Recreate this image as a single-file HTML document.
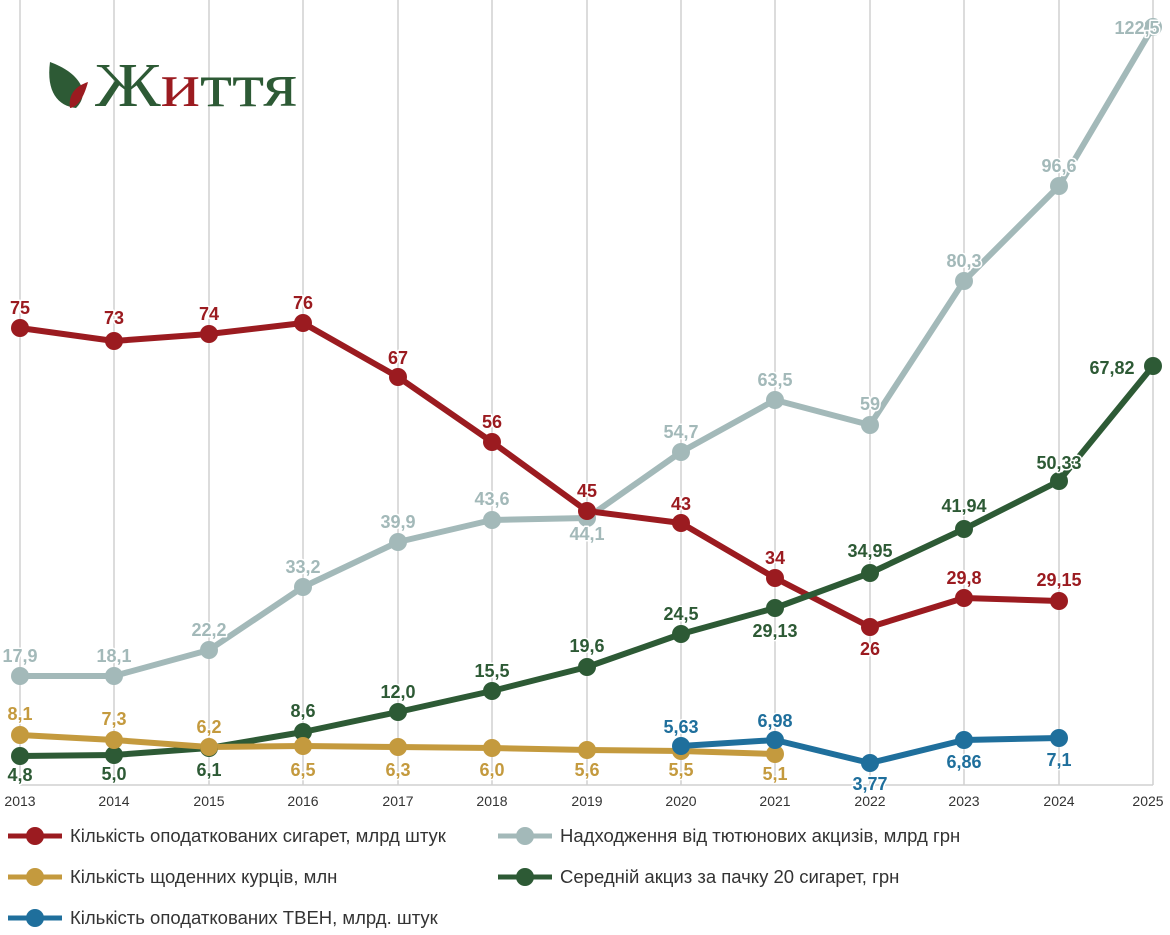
<!DOCTYPE html>
<html><head><meta charset="utf-8"><style>
body{margin:0;background:#fff;}
svg{display:block;font-family:"Liberation Sans",sans-serif;}
.l{font-weight:bold;font-size:18px;text-anchor:middle;stroke:#fff;stroke-width:3px;paint-order:stroke;stroke-linejoin:round;}
.t{font-size:14px;fill:#333;text-anchor:middle;}
.g{font-size:18.5px;fill:#333;}
</style></head><body>
<svg width="1170" height="935" viewBox="0 0 1170 935">
<g stroke="#d0d0d0" stroke-width="1.5">
<line x1="20" y1="0" x2="20" y2="785"/><line x1="114" y1="0" x2="114" y2="785"/><line x1="209" y1="0" x2="209" y2="785"/><line x1="303" y1="0" x2="303" y2="785"/><line x1="398" y1="0" x2="398" y2="785"/><line x1="492" y1="0" x2="492" y2="785"/><line x1="587" y1="0" x2="587" y2="785"/><line x1="681" y1="0" x2="681" y2="785"/><line x1="775" y1="0" x2="775" y2="785"/><line x1="870" y1="0" x2="870" y2="785"/><line x1="964" y1="0" x2="964" y2="785"/><line x1="1059" y1="0" x2="1059" y2="785"/><line x1="1153" y1="0" x2="1153" y2="785"/>
<line x1="20" y1="785" x2="1153" y2="785"/>
</g>
<g transform="translate(48,62)">
<path d="M2,0 C30,10 44,30 28,46 C10,44 -2,30 2,0Z" fill="#2d5a35"/>
<path d="M40,20 C36,35 30,45 22,46 C20,32 28,24 40,20Z" fill="#9b1b20"/>
</g>
<text x="95" y="106" font-family="Liberation Serif,serif" font-size="62" fill="#2d5a35" textLength="202" lengthAdjust="spacingAndGlyphs">Ж<tspan fill="#9b1b20">и</tspan>ття</text>
<g class="t">
<text x="20" y="806">2013</text><text x="114" y="806">2014</text><text x="209" y="806">2015</text><text x="303" y="806">2016</text><text x="398" y="806">2017</text><text x="492" y="806">2018</text><text x="587" y="806">2019</text><text x="681" y="806">2020</text><text x="775" y="806">2021</text><text x="870" y="806">2022</text><text x="964" y="806">2023</text><text x="1059" y="806">2024</text><text x="1148" y="806">2025</text>
</g>
<g fill="none" stroke-width="6" stroke-linejoin="round">
<polyline stroke="#a3b9b9" points="20,676 114,676 209,650 303,587 398,542 492,520 587,518 681,452 775,400 870,425 964,281 1059,186 1153,27"/>
<polyline stroke="#9b1b20" points="20,328 114,341 209,334 303,323 398,377 492,442 587,511 681,523 775,578 870,627 964,598 1059,601"/>
<polyline stroke="#2d5a35" points="20,756 114,755 209,748 303,732 398,712 492,691 587,667 681,634 775,608 870,573 964,529 1059,481 1153,366"/>
<polyline stroke="#c49a3e" points="20,735 114,740 209,747 303,746 398,747 492,748 587,750 681,751 775,754"/>
<polyline stroke="#1f6f9c" points="681,746 775,740 870,763 964,740 1059,738"/>
</g>
<g fill="#a3b9b9"><circle cx="20" cy="676" r="9"/><circle cx="114" cy="676" r="9"/><circle cx="209" cy="650" r="9"/><circle cx="303" cy="587" r="9"/><circle cx="398" cy="542" r="9"/><circle cx="492" cy="520" r="9"/><circle cx="587" cy="518" r="9"/><circle cx="681" cy="452" r="9"/><circle cx="775" cy="400" r="9"/><circle cx="870" cy="425" r="9"/><circle cx="964" cy="281" r="9"/><circle cx="1059" cy="186" r="9"/><circle cx="1153" cy="27" r="9"/></g>
<g fill="#9b1b20"><circle cx="20" cy="328" r="9"/><circle cx="114" cy="341" r="9"/><circle cx="209" cy="334" r="9"/><circle cx="303" cy="323" r="9"/><circle cx="398" cy="377" r="9"/><circle cx="492" cy="442" r="9"/><circle cx="587" cy="511" r="9"/><circle cx="681" cy="523" r="9"/><circle cx="775" cy="578" r="9"/><circle cx="870" cy="627" r="9"/><circle cx="964" cy="598" r="9"/><circle cx="1059" cy="601" r="9"/></g>
<g fill="#2d5a35"><circle cx="20" cy="756" r="9"/><circle cx="114" cy="755" r="9"/><circle cx="209" cy="748" r="9"/><circle cx="303" cy="732" r="9"/><circle cx="398" cy="712" r="9"/><circle cx="492" cy="691" r="9"/><circle cx="587" cy="667" r="9"/><circle cx="681" cy="634" r="9"/><circle cx="775" cy="608" r="9"/><circle cx="870" cy="573" r="9"/><circle cx="964" cy="529" r="9"/><circle cx="1059" cy="481" r="9"/><circle cx="1153" cy="366" r="9"/></g>
<g fill="#c49a3e"><circle cx="20" cy="735" r="9"/><circle cx="114" cy="740" r="9"/><circle cx="209" cy="747" r="9"/><circle cx="303" cy="746" r="9"/><circle cx="398" cy="747" r="9"/><circle cx="492" cy="748" r="9"/><circle cx="587" cy="750" r="9"/><circle cx="681" cy="751" r="9"/><circle cx="775" cy="754" r="9"/></g>
<g fill="#1f6f9c"><circle cx="681" cy="746" r="9"/><circle cx="775" cy="740" r="9"/><circle cx="870" cy="763" r="9"/><circle cx="964" cy="740" r="9"/><circle cx="1059" cy="738" r="9"/></g>
<g class="l" fill="#9b1b20"><text x="20" y="314">75</text><text x="114" y="324">73</text><text x="209" y="320">74</text><text x="303" y="309">76</text><text x="398" y="364">67</text><text x="492" y="428">56</text><text x="587" y="497">45</text><text x="681" y="510">43</text><text x="775" y="564">34</text><text x="870" y="655">26</text><text x="964" y="584">29,8</text><text x="1059" y="586">29,15</text></g>
<g class="l" fill="#a3b9b9"><text x="20" y="662">17,9</text><text x="114" y="662">18,1</text><text x="209" y="636">22,2</text><text x="303" y="573">33,2</text><text x="398" y="528">39,9</text><text x="492" y="505">43,6</text><text x="587" y="540">44,1</text><text x="681" y="438">54,7</text><text x="775" y="386">63,5</text><text x="870" y="410">59</text><text x="964" y="267">80,3</text><text x="1059" y="172">96,6</text><text x="1137" y="34">122,5</text></g>
<g class="l" fill="#2d5a35"><text x="20" y="781">4,8</text><text x="114" y="780">5,0</text><text x="209" y="776">6,1</text><text x="303" y="717">8,6</text><text x="398" y="698">12,0</text><text x="492" y="677">15,5</text><text x="587" y="652">19,6</text><text x="681" y="620">24,5</text><text x="775" y="637">29,13</text><text x="870" y="557">34,95</text><text x="964" y="512">41,94</text><text x="1059" y="469">50,33</text><text x="1112" y="374">67,82</text></g>
<g class="l" fill="#c49a3e"><text x="20" y="720">8,1</text><text x="114" y="725">7,3</text><text x="209" y="733">6,2</text><text x="303" y="776">6,5</text><text x="398" y="776">6,3</text><text x="492" y="776">6,0</text><text x="587" y="776">5,6</text><text x="681" y="776">5,5</text><text x="775" y="780">5,1</text></g>
<g class="l" fill="#1f6f9c"><text x="681" y="733">5,63</text><text x="775" y="727">6,98</text><text x="870" y="790">3,77</text><text x="964" y="768">6,86</text><text x="1059" y="766">7,1</text></g>
<g stroke-width="5">
<line x1="8" y1="836" x2="62" y2="836" stroke="#9b1b20"/><circle cx="35" cy="836" r="9" fill="#9b1b20"/>
<line x1="8" y1="877" x2="62" y2="877" stroke="#c49a3e"/><circle cx="35" cy="877" r="9" fill="#c49a3e"/>
<line x1="8" y1="918" x2="62" y2="918" stroke="#1f6f9c"/><circle cx="35" cy="918" r="9" fill="#1f6f9c"/>
<line x1="498" y1="836" x2="552" y2="836" stroke="#a3b9b9"/><circle cx="525" cy="836" r="9" fill="#a3b9b9"/>
<line x1="498" y1="877" x2="552" y2="877" stroke="#2d5a35"/><circle cx="525" cy="877" r="9" fill="#2d5a35"/>
</g>
<g class="g">
<text x="70" y="842">Кількість оподаткованих сигарет, млрд штук</text>
<text x="70" y="883">Кількість щоденних курців, млн</text>
<text x="70" y="924">Кількість оподаткованих ТВЕН, млрд. штук</text>
<text x="560" y="842">Надходження від тютюнових акцизів, млрд грн</text>
<text x="560" y="883">Середній акциз за пачку 20 сигарет, грн</text>
</g>
</svg>
</body></html>
